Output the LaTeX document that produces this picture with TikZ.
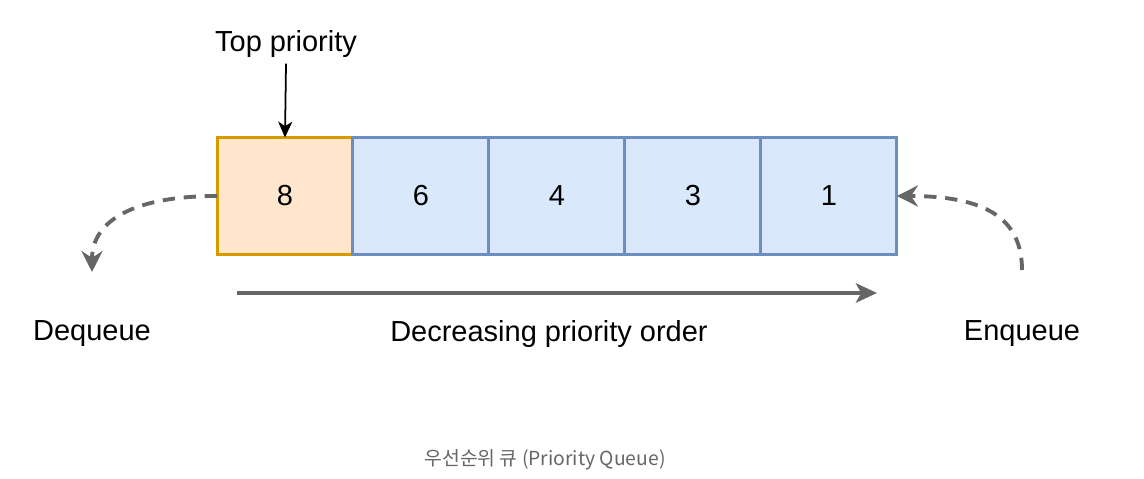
\documentclass[tikz,border=0pt]{standalone}
\usepackage{fontspec}
\setmainfont{Liberation Sans}
\newfontfamily\krfont{Noto Sans CJK KR}
\usetikzlibrary{arrows.meta,positioning}
\definecolor{qorange}{RGB}{255,230,204}
\definecolor{qorangeline}{RGB}{215,155,0}
\definecolor{qblue}{RGB}{218,232,252}
\definecolor{qblueline}{RGB}{108,142,191}
\definecolor{qgray}{RGB}{102,102,102}
\begin{document}
\begin{tikzpicture}[x=0.02cm, y=-0.02cm,
    every node/.style={font=\fontsize{16.5}{20}\selectfont},
    cell/.style={draw=qblueline, fill=qblue, line width=1.7pt, minimum width=2.72cm, minimum height=2.34cm, outer sep=0pt, inner sep=0pt},
    topcell/.style={cell, draw=qorangeline, fill=qorange},
    flow/.style={qgray, line width=2.2pt, dash pattern=on 7pt off 5pt, -{Stealth[length=12pt,width=12pt,inset=4pt]}}]
\useasboundingbox (0,0) rectangle (1144,479);
% queue cells
\node[topcell] (q8) at (285,196) {8};
\node[cell, right=0pt of q8] (q6) {6};
\node[cell, right=0pt of q6] (q4) {4};
\node[cell, right=0pt of q4] (q3) {3};
\node[cell, right=0pt of q3] (q1) {1};
% labels
\node (top) at (286,44) {Top priority};
\node (deq) at (92,334) {Dequeue};
\node (order) at (549,334) {Decreasing priority order};
\node (enq) at (1022,334) {Enqueue};
\node[font=\krfont\fontsize{11}{13}\selectfont, text=qgray] (caption) at (545,460) {우선순위 큐 (Priority Queue)};
% arrows
\draw[line width=1pt, -{Stealth[length=9pt,width=8pt,inset=2.5pt]}] (top.south) -- (q8.north);
\coordinate (ordA) at (237,293);
\coordinate (ordB) at (877,293);
\draw[qgray, line width=2.4pt, -{Stealth[length=12pt,width=11pt,inset=3pt]}] (ordA) -- (ordB);
\coordinate (deqEnd) at (92,272);
\coordinate (enqStart) at (1022,270);
\draw[flow] (q8.west) .. controls (135,196) and (92,220) .. (deqEnd);
\draw[flow] (enqStart) .. controls (1022,218) and (985,196) .. (q1.east);
\end{tikzpicture}
\end{document}
